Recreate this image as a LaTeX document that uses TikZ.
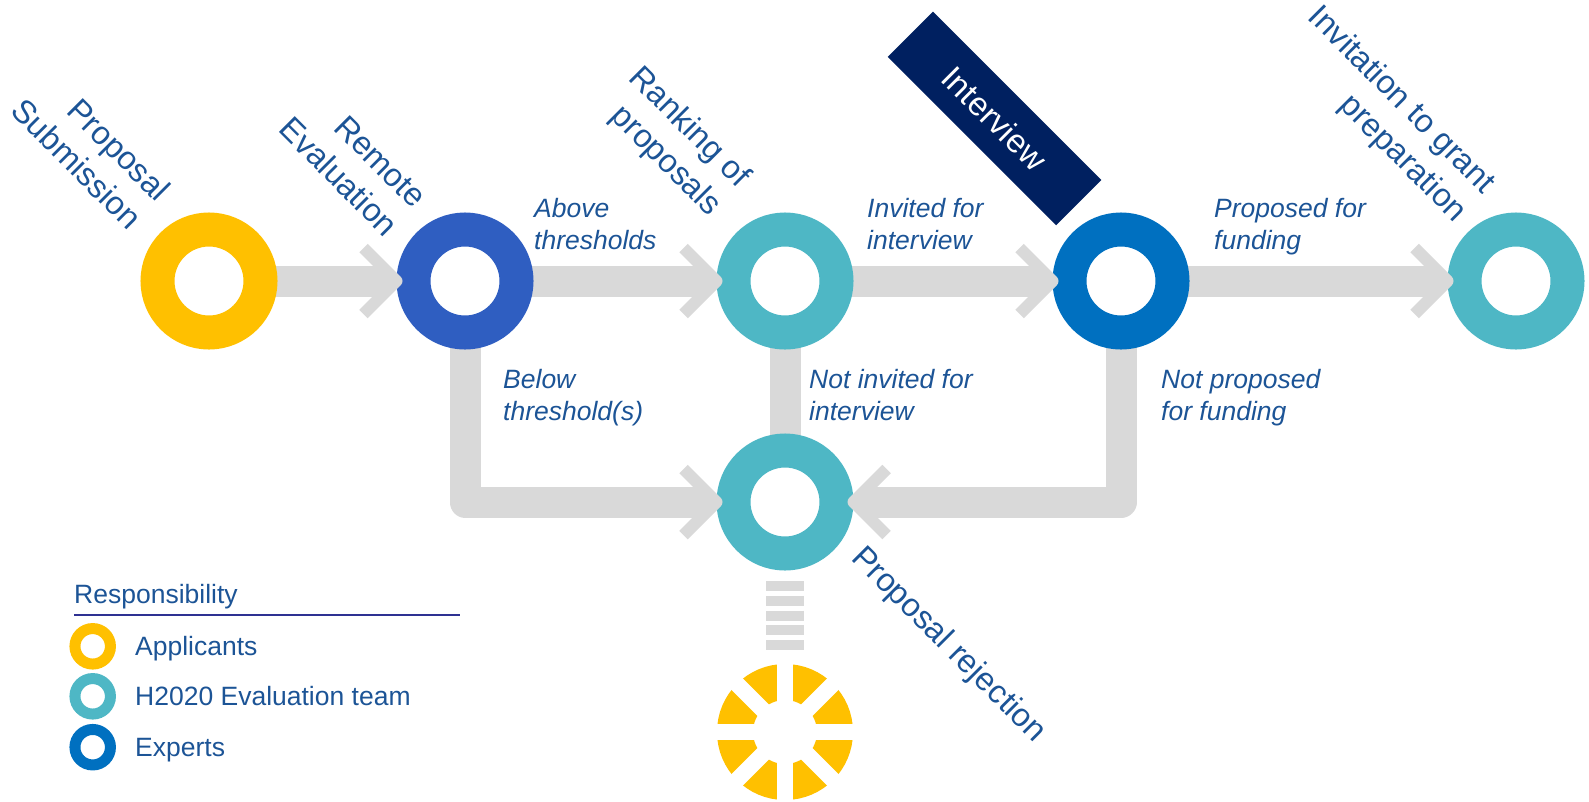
\documentclass[tikz,border=0pt]{standalone}
\usepackage{fontspec}
\setmainfont{Liberation Sans}
\usetikzlibrary{backgrounds}
\definecolor{yellowc}{RGB}{255,192,0}
\definecolor{royalc}{RGB}{47,94,193}
\definecolor{tealc}{RGB}{78,183,197}
\definecolor{expertc}{RGB}{0,112,192}
\definecolor{navyc}{RGB}{0,32,96}
\definecolor{bandc}{RGB}{217,217,217}
\definecolor{textc}{RGB}{28,84,150}
\definecolor{rulec}{RGB}{46,49,146}
\begin{document}
\begin{tikzpicture}[x=1pt,y=-1pt,
  ring/.style={circle, draw=#1, fill=white, line width=34pt, minimum size=103pt, inner sep=0pt},
  lring/.style={circle, draw=#1, fill=white, line width=11pt, minimum size=35.5pt, inner sep=0pt},
  band/.style={draw=bandc, line width=31pt, line join=round},
  chev/.style={draw=bandc, line width=12pt, line join=round},
  steplabel/.style={rotate=-45, anchor=base east, inner sep=0pt, text=textc, font=\fontsize{32.5}{40}\selectfont},
  pathlabel/.style={anchor=base west, inner sep=0pt, text=textc, font=\fontsize{26.5}{32}\selectfont\itshape},
  legtext/.style={anchor=base west, inner sep=0pt, text=textc, font=\fontsize{26.5}{32}\selectfont},
]
\useasboundingbox (0,0) rectangle (1589,801);
% stages
\node[ring=yellowc] (sub) at (209,281) {};
\node[ring=royalc] (rem) at (465,281) {};
\node[ring=tealc] (rank) at (785,281) {};
\node[ring=expertc] (intv) at (1121,281) {};
\node[ring=tealc] (inv) at (1516,281) {};
\node[ring=tealc] (rej) at (785,502) {};
\node[ring=yellowc, line width=36pt, minimum size=100pt] (spin) at (785,732) {};
\foreach \a in {0,45,90,135}
  \draw[white, line width=16pt] ([shift={(\a:76)}]spin.center) -- ([shift={(\a+180:76)}]spin.center);
% flows
\begin{scope}[on background layer]
\draw[band] (sub.center) -- ([xshift=-8pt]rem.west);
\draw[band] (rem.center) -- ([xshift=-8pt]rank.west);
\draw[band] (rank.center) -- ([xshift=-8pt]intv.west);
\draw[band] (intv.center) -- ([xshift=-8pt]inv.west);
\draw[band] (rem.center) |- ([xshift=-8pt]rej.west);
\draw[band] (rank.center) -- (rej.center);
\draw[band] (intv.center) |- ([xshift=8pt]rej.east);
\draw[band, line width=38pt, dash pattern=on 10pt off 4.75pt] ([yshift=-10.5pt]rej.south) -- ([yshift=14pt]spin.north);
\end{scope}
% chevrons
\draw[chev] ([shift={(-33,-33)}]rem.west) -- (rem.west) -- ([shift={(-33,33)}]rem.west);
\draw[chev] ([shift={(-33,-33)}]rank.west) -- (rank.west) -- ([shift={(-33,33)}]rank.west);
\draw[chev] ([shift={(-33,-33)}]intv.west) -- (intv.west) -- ([shift={(-33,33)}]intv.west);
\draw[chev] ([shift={(-33,-33)}]inv.west) -- (inv.west) -- ([shift={(-33,33)}]inv.west);
\draw[chev] ([shift={(-33,-33)}]rej.west) -- (rej.west) -- ([shift={(-33,33)}]rej.west);
\draw[chev] ([shift={(33,-33)}]rej.east) -- (rej.east) -- ([shift={(33,33)}]rej.east);
% stage labels
\node[steplabel] (lsub) at (128.2,231.5) {\begin{tabular}[b]{@{}r@{}}Proposal\\Submission\end{tabular}};
\node[steplabel] (lrem) at (384.8,238.2) {\begin{tabular}[b]{@{}r@{}}Remote\\Evaluation\end{tabular}};
\node[steplabel] (lrank) at (709.5,217.5) {\begin{tabular}[b]{@{}r@{}}Ranking of\\proposals\end{tabular}};
\node[steplabel] (linv) at (1454.8,223.2) {\begin{tabular}[b]{@{}r@{}}Invitation to grant\\preparation\end{tabular}};
\node[steplabel, anchor=base west] (lrej) at (850,559) {Proposal rejection};
\node[rotate=-45, fill=navyc, minimum width=238pt, minimum height=64pt, inner sep=0pt, text=white, font=\fontsize{33}{40}\selectfont] (intbox) at (994.5,118.5) {Interview};
% path labels
\node[pathlabel] (labove) at (534,217) {\begin{tabular}[t]{@{}l@{}}Above\\thresholds\end{tabular}};
\node[pathlabel] (linvited) at (867,217) {\begin{tabular}[t]{@{}l@{}}Invited for\\interview\end{tabular}};
\node[pathlabel] (lproposed) at (1214,217) {\begin{tabular}[t]{@{}l@{}}Proposed for\\funding\end{tabular}};
\node[pathlabel] (lbelow) at (503,388.5) {\begin{tabular}[t]{@{}l@{}}Below\\threshold(s)\end{tabular}};
\node[pathlabel] (lnotinv) at (809,388.5) {\begin{tabular}[t]{@{}l@{}}Not invited for\\interview\end{tabular}};
\node[pathlabel] (lnotprop) at (1161,388.5) {\begin{tabular}[t]{@{}l@{}}Not proposed\\for funding\end{tabular}};
% legend
\node[legtext] (resp) at (74,603.3) {Responsibility};
\coordinate (rulea) at (74,615);
\coordinate (ruleb) at (460,615);
\draw[draw=rulec, line width=2pt] (rulea) -- (ruleb);
\node[lring=yellowc] (lg1) at (92.7,646.3) {};
\node[lring=tealc] (lg2) at (92.7,696.3) {};
\node[lring=expertc] (lg3) at (92.7,747.2) {};
\node[legtext] (lt1) at (135,655.8) {Applicants};
\node[legtext] (lt2) at (135,705.8) {H2020 Evaluation team};
\node[legtext] (lt3) at (135,756.7) {Experts};
\end{tikzpicture}
\end{document}
